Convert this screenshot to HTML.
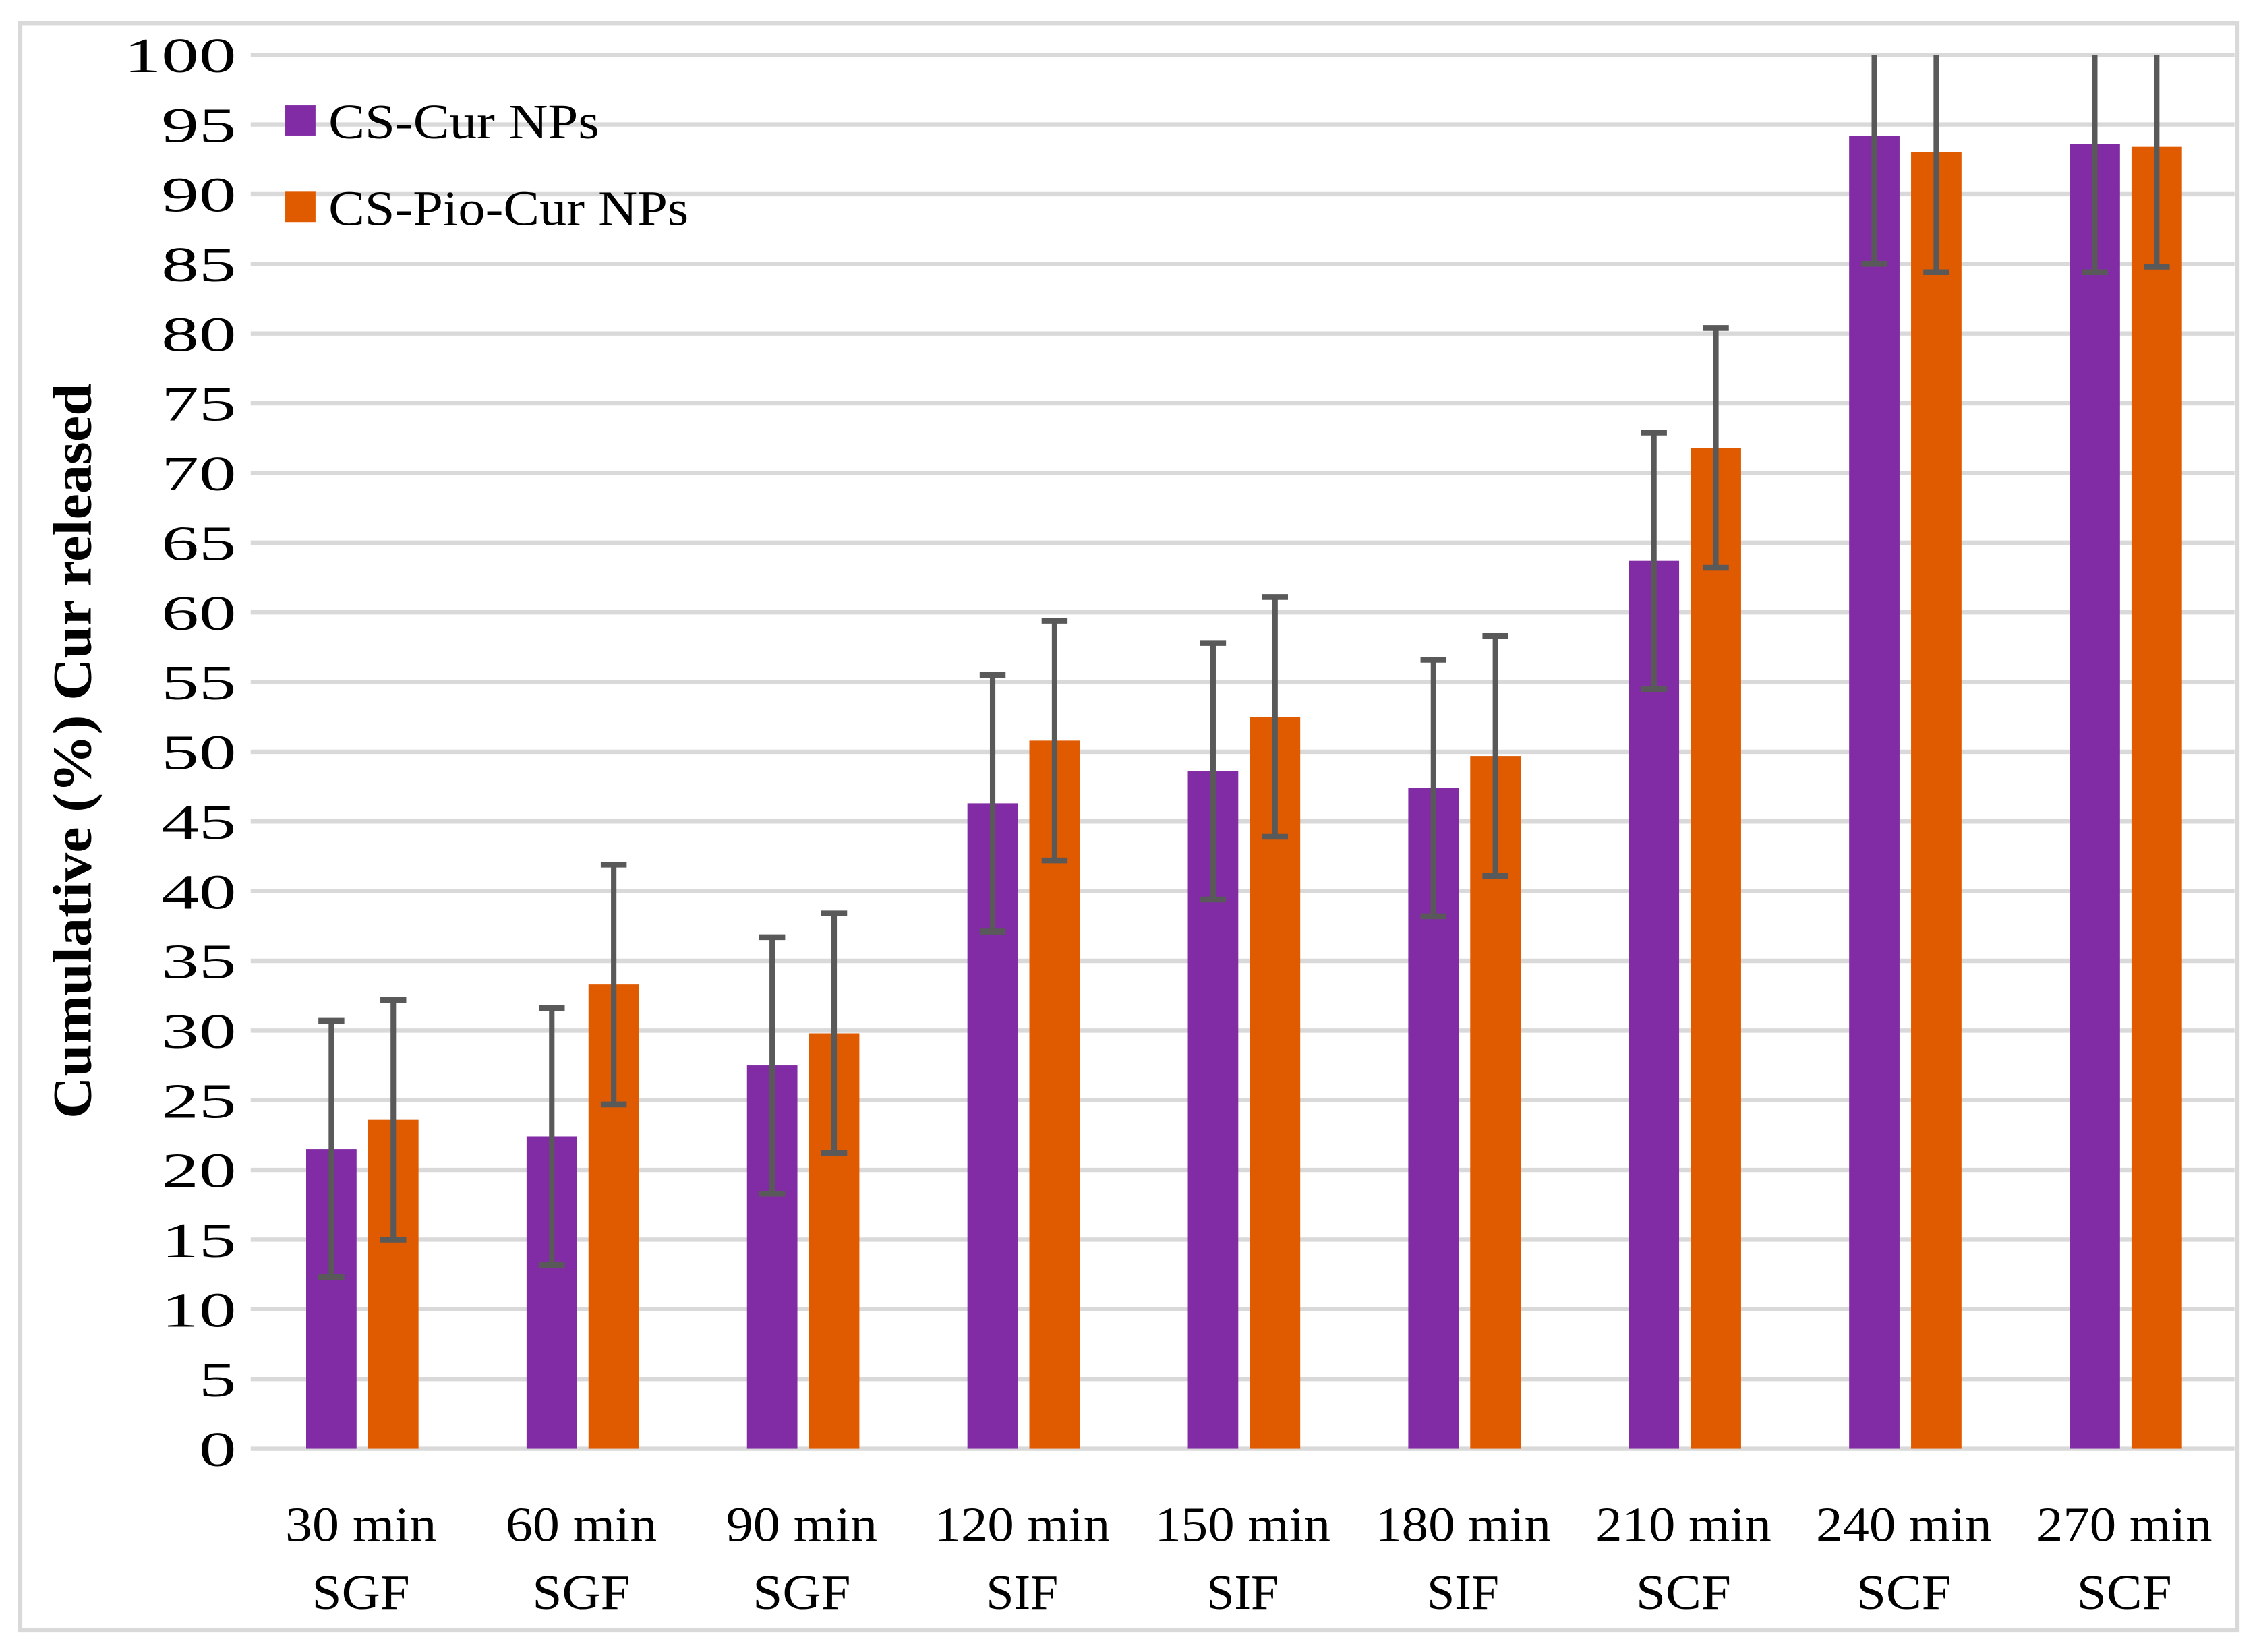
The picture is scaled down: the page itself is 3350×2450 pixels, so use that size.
<!DOCTYPE html>
<html><head><meta charset="utf-8"><style>html,body{margin:0;padding:0;background:#fff}svg{display:block}</style></head>
<body>
<svg width="3350" height="2450" viewBox="0 0 1568 1146" preserveAspectRatio="none" xmlns="http://www.w3.org/2000/svg" font-family="'Liberation Serif', serif">
<rect x="0" y="0" width="1568" height="1146" fill="#fff"/>
<rect x="14" y="16" width="1539" height="1115" fill="none" stroke="#d9d9d9" stroke-width="3"/>
<g id="grid" stroke="#d9d9d9" stroke-width="3"></g>
<g id="bars"></g>
<g id="err" stroke="#595959"></g>
<g id="ylab" font-size="34" text-anchor="end" fill="#000"></g>
<g id="xlab" font-size="34" text-anchor="middle" fill="#000"></g>
<rect x="198" y="73" width="21" height="21" fill="#812CA5"/>
<text x="228" y="96" font-size="34" textLength="188" lengthAdjust="spacingAndGlyphs">CS-Cur NPs</text>
<rect x="198" y="133" width="21" height="21" fill="#E05A00"/>
<text x="228" y="156" font-size="34" textLength="250" lengthAdjust="spacingAndGlyphs">CS-Pio-Cur NPs</text>
<text transform="translate(63,521) rotate(-90)" font-size="38" font-weight="bold" text-anchor="middle" textLength="510" lengthAdjust="spacingAndGlyphs">Cumulative (%) Cur released</text>
<script>
var NS="http://www.w3.org/2000/svg";
function el(p,t,a,txt){var e=document.createElementNS(NS,t);for(var k in a)e.setAttribute(k,a[k]);if(txt!==undefined)e.textContent=txt;document.getElementById(p).appendChild(e);}
function Y(v){return 1005-v*9.67;}
for(var v=0;v<=100;v+=5){var s=String(v);el('grid','line',{x1:174,x2:1551,y1:Y(v),y2:Y(v)});el('ylab','text',{x:164,y:Y(v)+12,textLength:s.length*26,lengthAdjust:'spacingAndGlyphs'},s);}
var P=[21.5,22.4,27.5,46.3,48.6,47.4,63.7,94.2,93.6],O=[23.6,33.3,29.8,50.8,52.5,49.7,71.8,93.0,93.4];
var L1=["30 min","60 min","90 min","120 min","150 min","180 min","210 min","240 min","270 min"],L2=["SGF","SGF","SGF","SIF","SIF","SIF","SCF","SCF","SCF"];
var W2={SGF:68,SIF:50,SCF:66};
var w=(1551-174)/9;
for(var i=0;i<9;i++){var c=174+w*(i+0.5);
el('bars','rect',{x:c-38,y:Y(P[i]),width:35,height:Y(0)-Y(P[i]),fill:'#812CA5'});
el('bars','rect',{x:c+5,y:Y(O[i]),width:35,height:Y(0)-Y(O[i]),fill:'#E05A00'});
[[c-20.5,P[i],9.2],[c+22.5,O[i],8.6]].forEach(function(a){var lo=a[1]-a[2],hi=Math.min(100,a[1]+a[2]);
el('err','line',{x1:a[0],x2:a[0],y1:Y(hi),y2:Y(lo),'stroke-width':3.8});
el('err','line',{x1:a[0]-9,x2:a[0]+9,y1:Y(lo),y2:Y(lo),'stroke-width':4});
if(a[1]+a[2]<100)el('err','line',{x1:a[0]-9,x2:a[0]+9,y1:Y(hi),y2:Y(hi),'stroke-width':4});});
el('xlab','text',{x:c,y:1069,textLength:L1[i].length==6?105:122,lengthAdjust:'spacingAndGlyphs'},L1[i]);
el('xlab','text',{x:c,y:1116,textLength:W2[L2[i]],lengthAdjust:'spacingAndGlyphs'},L2[i]);}
</script>
</svg>
</body></html>
